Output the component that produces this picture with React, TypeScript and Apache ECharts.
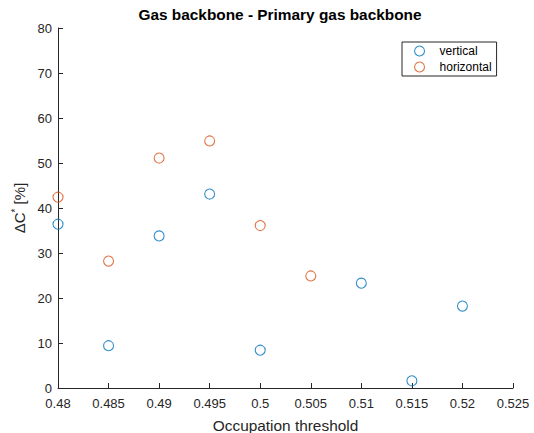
import React, { useEffect, useRef } from "react";
import * as echarts from "echarts";

const verticalX = [0.48, 0.485, 0.49, 0.495, 0.5, 0.51, 0.515, 0.52];
const verticalY = [36.4, 9.4, 33.8, 43.1, 8.4, 23.3, 1.6, 18.2];
const horizontalX = [0.48, 0.485, 0.49, 0.495, 0.5, 0.505];
const horizontalY = [42.4, 28.2, 51.1, 54.9, 36.1, 24.9];

const BLUE = "#0072BD";
const ORANGE = "#D95319";
const AX = "#262626";
const FONT = "Arial, Liberation Sans, Helvetica, sans-serif";

export default function App() {
  const ref = useRef<HTMLDivElement>(null);
  useEffect(() => {
    const chart = echarts.init(ref.current!, null, { renderer: "svg" });
    const mk = (xs: number[], ys: number[]) => xs.map((x, i) => [x, ys[i]]);
    chart.setOption({
      animation: false,
      backgroundColor: "#ffffff",
      title: {
        text: "Gas backbone - Primary gas backbone",
        left: 275,
        textAlign: "center",
        top: 2,
        textStyle: { fontFamily: FONT, fontSize: 15.4, fontWeight: "bold", color: "#000" },
      },
      legend: {
        orient: "vertical",
        left: 402,
        top: 42,
        padding: [3, 5, 3, 12],
        itemGap: 4,
        itemWidth: 14,
        itemHeight: 10,
        borderColor: AX,
        borderWidth: 1,
        borderRadius: 0,
        backgroundColor: "#fff",
        icon: "circle",
        textStyle: { fontFamily: FONT, fontSize: 12, color: "#000", padding: [0, 0, 0, 8] },
        data: [
          { name: "vertical", itemStyle: { color: "transparent", borderColor: BLUE, borderWidth: 1.1 } },
          { name: "horizontal", itemStyle: { color: "transparent", borderColor: ORANGE, borderWidth: 1.1 } },
        ],
      },
      grid: { left: 58, right: 21, top: 28, bottom: 45, containLabel: false, outerBoundsMode: "none" },
      xAxis: {
        type: "value",
        min: 0.48,
        max: 0.525,
        interval: 0.005,
        name: "Occupation threshold",
        nameLocation: "middle",
        nameGap: 30,
        nameTextStyle: { fontFamily: FONT, fontSize: 15.4, color: AX },
        axisLine: { lineStyle: { color: AX, width: 1 } },
        axisTick: { inside: true, length: 5, lineStyle: { color: AX } },
        axisLabel: {
          fontFamily: FONT,
          fontSize: 13,
          color: AX,
          margin: 9,
          formatter: (v: number) => String(parseFloat(v.toFixed(3))),
        },
        splitLine: { show: false },
      },
      yAxis: {
        type: "value",
        min: 0,
        max: 80,
        interval: 10,
        name: "ΔC{sup|*} [%]",
        nameLocation: "middle",
        nameGap: 18,
        nameTextStyle: {
          fontFamily: FONT,
          fontSize: 15,
          color: AX,
          rich: { sup: { fontSize: 10, verticalAlign: "top", padding: [0, 0, 8, 0], fontFamily: FONT, color: AX } },
        },
        axisLine: { show: true, lineStyle: { color: AX, width: 1 } },
        axisTick: { show: true, inside: true, length: 5, lineStyle: { color: AX } },
        axisLabel: { fontFamily: FONT, fontSize: 13, color: AX, margin: 6 },
        splitLine: { show: false },
      },
      series: [
        {
          name: "vertical",
          type: "scatter",
          symbol: "circle",
          symbolSize: 10,
          itemStyle: { color: "transparent", borderColor: BLUE, borderWidth: 1.1 },
          data: mk(verticalX, verticalY),
        },
        {
          name: "horizontal",
          type: "scatter",
          symbol: "circle",
          symbolSize: 10,
          itemStyle: { color: "transparent", borderColor: ORANGE, borderWidth: 1.1 },
          data: mk(horizontalX, horizontalY),
        },
      ],
    });
    return () => chart.dispose();
  }, []);
  return <div ref={ref} style={{ width: 534, height: 433, position: "absolute", left: 0, top: 0 }} />;
}
